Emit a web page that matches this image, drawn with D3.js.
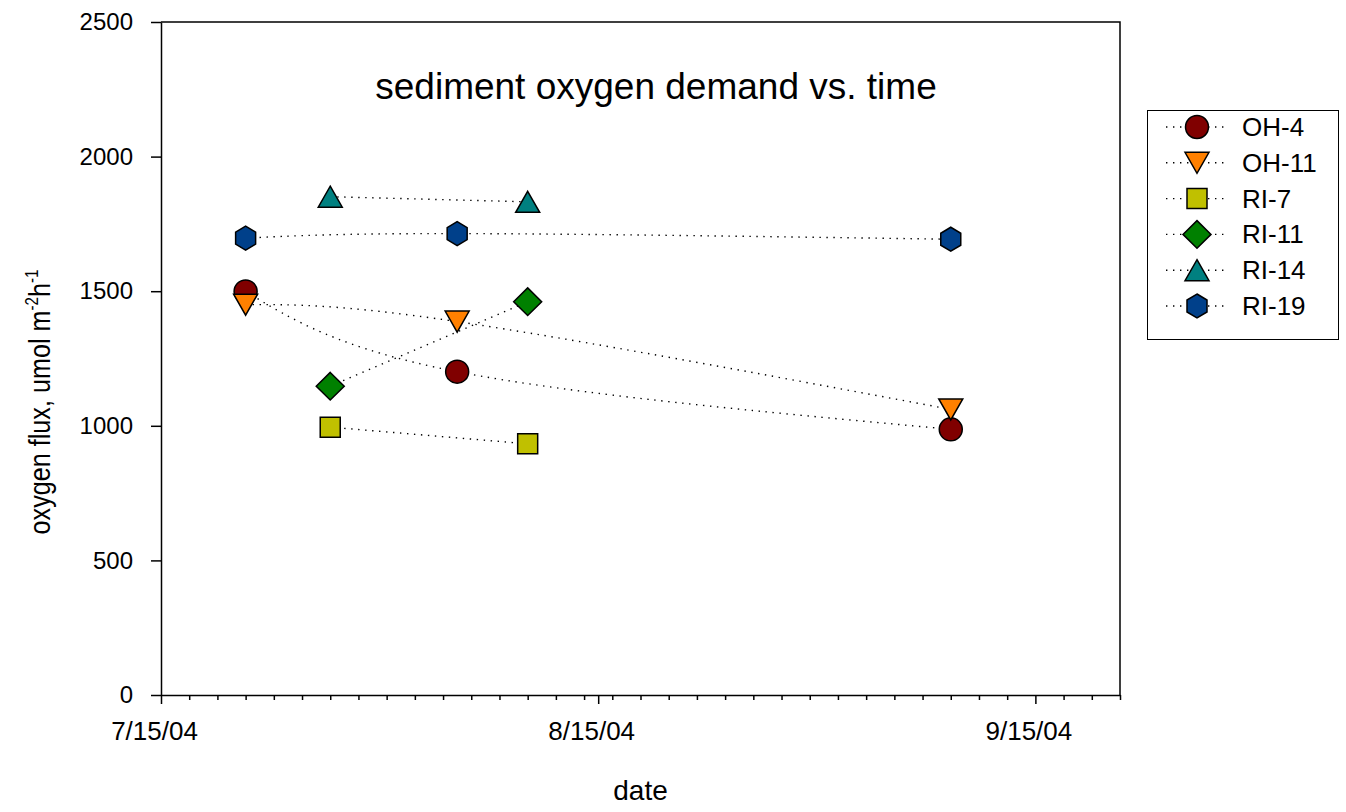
<!DOCTYPE html>
<html>
<head>
<meta charset="utf-8">
<script src="https://cdn.jsdelivr.net/npm/d3@7"></script>
<style>
  body { margin: 0; background: #fff; }
  svg { display: block; font-family: "Liberation Sans", Arial, sans-serif; }
</style>
</head>
<body>
<div id="chart"></div>
<script>
// ---- data ----
var seriesNames = ["OH-4", "OH-11", "RI-7", "RI-11", "RI-14", "RI-19"];
var seriesColors = ["#800000", "#ff8000", "#c0c000", "#008000", "#008080", "#00408a"];
var seriesShapes = ["circle", "triangleDown", "square", "diamond", "triangleUp", "hexagon"];

var datesOH4 = ["2004-07-21", "2004-08-05", "2004-09-09"];
var valuesOH4 = [1499, 1201, 987];
var datesOH11 = ["2004-07-21", "2004-08-05", "2004-09-09"];
var valuesOH11 = [1450, 1387, 1061];
var datesRI7 = ["2004-07-27", "2004-08-10"];
var valuesRI7 = [995, 933];
var datesRI11 = ["2004-07-27", "2004-08-10"];
var valuesRI11 = [1147, 1461];
var datesRI14 = ["2004-07-27", "2004-08-10"];
var valuesRI14 = [1851, 1832];
var datesRI19 = ["2004-07-21", "2004-08-05", "2004-09-09"];
var valuesRI19 = [1697, 1714, 1693];

var xDomain = ["2004-07-15", "2004-09-21"];
var xMajorTicks = ["2004-07-15", "2004-08-15", "2004-09-15"];
var yTicks = [0, 500, 1000, 1500, 2000, 2500];

var chartTitle = "sediment oxygen demand vs. time";
var xTitle = "date";

// ---- build ----
var parseDay = function (s) {
    var p = s.split("-");
    return new Date(+p[0], +p[1] - 1, +p[2]);
};

var allDates = [datesOH4, datesOH11, datesRI7, datesRI11, datesRI14, datesRI19];
var allValues = [valuesOH4, valuesOH11, valuesRI7, valuesRI11, valuesRI14, valuesRI19];
var series = seriesNames.map(function (name, i) {
    return {
        name: name,
        color: seriesColors[i],
        shape: seriesShapes[i],
        points: allDates[i].map(function (d, j) { return { date: parseDay(d), value: allValues[i][j] }; })
    };
});

var width = 1346, height = 812;
var plot = { left: 161, right: 1120, top: 22, bottom: 695 };

var svg = d3.select("#chart").append("svg")
    .attr("width", width)
    .attr("height", height);

var x = d3.scaleTime()
    .domain(xDomain.map(parseDay))
    .range([plot.left, plot.right]);

var y = d3.scaleLinear()
    .domain([0, 2500])
    .range([plot.bottom, plot.top]);

// marker outlines, centred on 0,0
function shapePath(kind) {
    var p;
    switch (kind) {
        case "circle":
            var r = 11.5;
            return "M" + r + ",0A" + r + "," + r + " 0 1,1 " + (-r) + ",0A" + r + "," + r + " 0 1,1 " + r + ",0Z";
        case "triangleDown":
            p = [[-12, -10.5], [12, -10.5], [0, 10.5]]; break;
        case "triangleUp":
            p = [[0, -10.5], [12, 10.5], [-12, 10.5]]; break;
        case "square":
            p = [[-10, -10], [10, -10], [10, 10], [-10, 10]]; break;
        case "diamond":
            p = [[0, -13.8], [14, 0], [0, 13.8], [-14, 0]]; break;
        case "hexagon":
            p = [[0, -12], [10, -6], [10, 6], [0, 12], [-10, 6], [-10, -6]]; break;
    }
    return "M" + p.map(function (q) { return q.join(","); }).join("L") + "Z";
}

// frame (top and right)
svg.append("path")
    .attr("d", "M" + plot.left + "," + plot.top + "H" + plot.right + "V" + plot.bottom)
    .attr("fill", "none")
    .attr("stroke", "#000")
    .attr("stroke-width", 1.5);

// y axis
var yAxis = svg.append("g")
    .attr("transform", "translate(" + plot.left + ",0)")
    .call(d3.axisLeft(y).tickValues(yTicks).tickFormat(d3.format("d"))
        .tickSize(10).tickPadding(18).tickSizeOuter(0));
yAxis.select(".domain").attr("stroke-width", 1.5);
yAxis.selectAll(".tick line").attr("stroke-width", 1.5);
yAxis.selectAll(".tick text")
    .attr("font-size", 24)
    .attr("font-family", "Liberation Sans, Arial, sans-serif")
    .attr("fill", "#000");

// x axis: minor ticks every 2 days, majors on the 15th
var majorDates = xMajorTicks.map(parseDay);
var minorDates = d3.timeDay.range(parseDay(xDomain[0]), d3.timeDay.offset(parseDay(xDomain[1]), 1), 2)
    .filter(function (d) { return !majorDates.some(function (m) { return +m === +d; }); });

var xMinor = svg.append("g")
    .attr("transform", "translate(0," + plot.bottom + ")")
    .call(d3.axisBottom(x).tickValues(minorDates).tickSize(5).tickFormat("").tickSizeOuter(0));
xMinor.select(".domain").attr("stroke-width", 1.5);
xMinor.selectAll(".tick line").attr("stroke-width", 1.5);

var xMajor = svg.append("g")
    .attr("transform", "translate(0," + plot.bottom + ")")
    .call(d3.axisBottom(x).tickValues(majorDates).tickSize(9).tickPadding(18)
        .tickFormat(function (d) { return (d.getMonth() + 1) + "/" + d3.timeFormat("%d/%y")(d); })
        .tickSizeOuter(0));
xMajor.select(".domain").remove();
xMajor.selectAll(".tick line").attr("stroke-width", 1.5);
xMajor.selectAll(".tick text")
    .attr("font-size", 26)
    .attr("font-family", "Liberation Sans, Arial, sans-serif")
    .attr("fill", "#000")
    .attr("dx", -7);

// titles
svg.append("text")
    .attr("x", 656)
    .attr("y", 99)
    .attr("text-anchor", "middle")
    .attr("font-size", 37)
    .text(chartTitle);

svg.append("text")
    .attr("x", (plot.left + plot.right) / 2)
    .attr("y", 800)
    .attr("text-anchor", "middle")
    .attr("font-size", 28)
    .text(xTitle);

var yLabel = svg.append("text")
    .attr("transform", "translate(50,402) rotate(-90) scale(0.84,1)")
    .attr("text-anchor", "middle")
    .attr("font-size", 30);
yLabel.append("tspan").text("oxygen flux, umol m");
yLabel.append("tspan").attr("dy", -12).attr("font-size", 18).text("-2");
yLabel.append("tspan").attr("dy", 12).text("h");
yLabel.append("tspan").attr("dy", -12).attr("font-size", 18).text("-1");

// lines first
var line = d3.line()
    .x(function (d) { return x(d.date); })
    .y(function (d) { return y(d.value); })
    .curve(d3.curveNatural);

svg.append("g").selectAll("path")
    .data(series)
    .join("path")
    .attr("fill", "none")
    .attr("stroke", "#000")
    .attr("stroke-width", 1.4)
    .attr("stroke-dasharray", "1.4,5.6")
    .attr("d", function (s) { return line(s.points); });

// then markers
series.forEach(function (s) {
    svg.append("g").selectAll("path")
        .data(s.points)
        .join("path")
        .attr("transform", function (d) { return "translate(" + x(d.date) + "," + y(d.value) + ")"; })
        .attr("d", shapePath(s.shape))
        .attr("fill", s.color)
        .attr("stroke", "#000")
        .attr("stroke-width", 1.5);
});

// legend
var legend = svg.append("g");
legend.append("rect")
    .attr("x", 1147.5)
    .attr("y", 110.5)
    .attr("width", 191)
    .attr("height", 229)
    .attr("fill", "#fff")
    .attr("stroke", "#000")
    .attr("stroke-width", 1);

var rowY = d3.scalePoint().domain(seriesNames).range([127, 306]);

var rows = legend.selectAll("g.row")
    .data(series)
    .join("g")
    .attr("class", "row")
    .attr("transform", function (s) { return "translate(0," + rowY(s.name) + ")"; });

rows.append("line")
    .attr("x1", 1166)
    .attr("x2", 1226)
    .attr("stroke", "#000")
    .attr("stroke-width", 1.4)
    .attr("stroke-dasharray", "1.4,5.6");

rows.append("path")
    .attr("transform", "translate(1197,0)")
    .attr("d", function (s) { return shapePath(s.shape); })
    .attr("fill", function (s) { return s.color; })
    .attr("stroke", "#000")
    .attr("stroke-width", 1.5);

rows.append("text")
    .attr("x", 1242)
    .attr("y", 9)
    .attr("font-size", 26)
    .text(function (s) { return s.name; });
</script>
</body>
</html>
